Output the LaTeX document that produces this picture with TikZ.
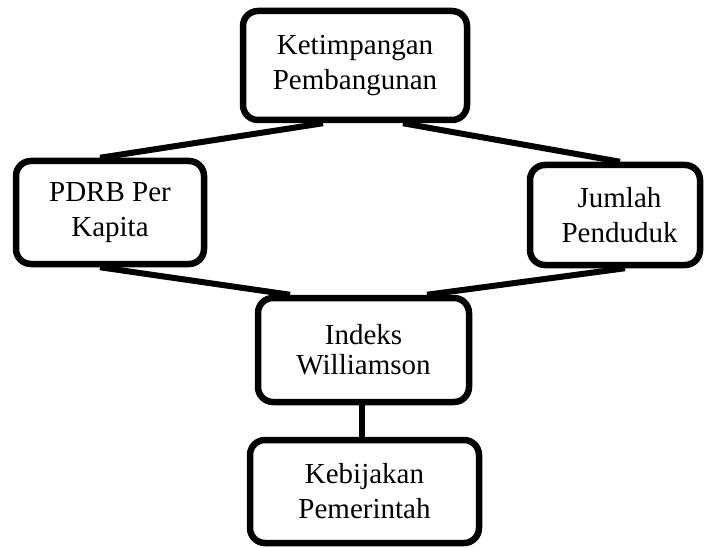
\documentclass[tikz,border=0pt]{standalone}
\usepackage{fontspec}
\setmainfont{Liberation Serif}
\begin{document}
\begin{tikzpicture}[x=1pt,y=-1pt,
  box/.style={draw=black, line width=6.5pt, rounded corners=15pt, fill=white,
    align=center, inner sep=0pt, font=\fontsize{29}{35}\selectfont},
  link/.style={draw=black, line width=6pt}]
\useasboundingbox (0,0) rectangle (704,548);
\node[box, minimum width=224pt, minimum height=109pt] (top) at (355,65.5) {Ketimpangan\\Pembangunan};
\node[box, minimum width=188pt, minimum height=103pt] (pdrb) at (110,212.5) {PDRB Per\\Kapita};
\node[box, minimum width=170pt, minimum height=100pt] (jml) at (615,215) {\hspace*{9pt}Jumlah\\\hspace*{9pt}Penduduk};
\node[box, minimum width=211pt, minimum height=104pt, font=\fontsize{29}{30}\selectfont] (idx) at (363.5,350) {\raisebox{-6pt}{Indeks}\\\raisebox{-6pt}{Williamson}};
\node[box, minimum width=229pt, minimum height=103pt] (keb) at (364.5,491.5) {Kebijakan\\Pemerintah};
\draw[link] ([xshift=-32pt]top.south) -- ([xshift=-10pt]pdrb.north);
\draw[link] ([xshift=48pt]top.south) -- ([xshift=5pt]jml.north);
\draw[link] ([xshift=-10pt]pdrb.south) -- ([xshift=-73.5pt]idx.north);
\draw[link] ([xshift=10pt]jml.south) -- ([xshift=63.5pt]idx.north);
\draw[link] ([xshift=-1.5pt]idx.south) -- ([xshift=-2.5pt]keb.north);
\end{tikzpicture}
\end{document}
